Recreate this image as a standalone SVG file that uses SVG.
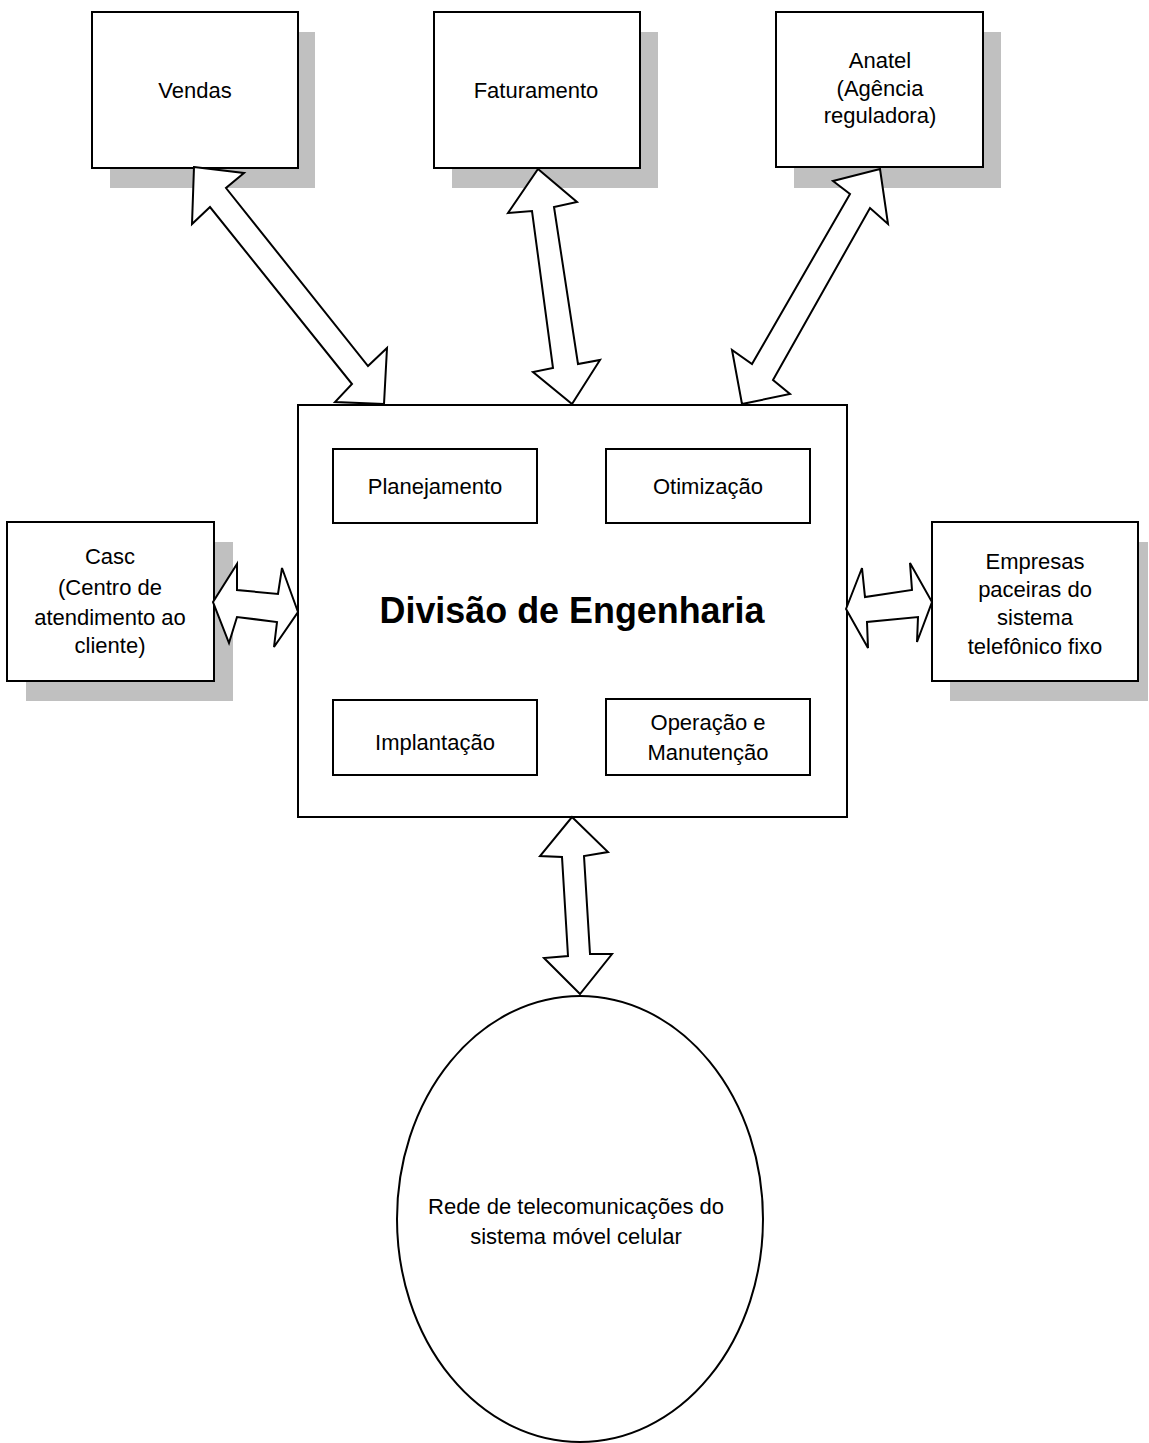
<svg xmlns="http://www.w3.org/2000/svg" width="1149" height="1443" viewBox="0 0 1149 1443">
<style>
.shadow{fill:#c0c0c0;stroke:none}
.box{fill:#ffffff;stroke:#000000;stroke-width:2}
.arrow{fill:#ffffff;stroke:#000000;stroke-width:2;stroke-linejoin:miter}
.t{font-family:"Liberation Sans",Arial,sans-serif;font-size:22px;fill:#000000;text-anchor:middle}
.title{font-family:"Liberation Sans",Arial,sans-serif;font-size:37px;font-weight:bold;fill:#000000;text-anchor:middle}
</style>
<rect x="0" y="0" width="1149" height="1443" fill="#ffffff"/>
<g id="main">
<rect class="box" x="298" y="405" width="549" height="412"/>
<text class="title" x="572" y="623" textLength="385" lengthAdjust="spacingAndGlyphs">Divisão de Engenharia</text>
</g>
<g id="planejamento">
<rect class="box" x="333" y="449" width="204" height="74"/>
<text class="t" x="435" y="494">Planejamento</text>
</g>
<g id="otimizacao">
<rect class="box" x="606" y="449" width="204" height="74"/>
<text class="t" x="708" y="494">Otimização</text>
</g>
<g id="implantacao">
<rect class="box" x="333" y="700" width="204" height="75"/>
<text class="t" x="435" y="750">Implantação</text>
</g>
<g id="operacao">
<rect class="box" x="606" y="699" width="204" height="76"/>
<text class="t" x="708" y="730">Operação e</text>
<text class="t" x="708" y="760">Manutenção</text>
</g>
<g id="vendas">
<rect class="shadow" x="110" y="32" width="205" height="156"/>
<rect class="box" x="92" y="12" width="206" height="156"/>
<text class="t" x="195" y="98">Vendas</text>
</g>
<g id="faturamento">
<rect class="shadow" x="452" y="32" width="206" height="156"/>
<rect class="box" x="434" y="12" width="206" height="156"/>
<text class="t" x="536" y="98">Faturamento</text>
</g>
<g id="anatel">
<rect class="shadow" x="794" y="32" width="207" height="156"/>
<rect class="box" x="776" y="12" width="207" height="155"/>
<text class="t" x="880" y="68">Anatel</text>
<text class="t" x="880" y="96">(Agência</text>
<text class="t" x="880" y="123">reguladora)</text>
</g>
<g id="casc">
<rect class="shadow" x="26" y="542" width="207" height="159"/>
<rect class="box" x="7" y="522" width="207" height="159"/>
<text class="t" x="110" y="564">Casc</text>
<text class="t" x="110" y="595">(Centro de</text>
<text class="t" x="110" y="625">atendimento ao</text>
<text class="t" x="110" y="653">cliente)</text>
</g>
<g id="empresas">
<rect class="shadow" x="950" y="542" width="198" height="159"/>
<rect class="box" x="932" y="522" width="206" height="159"/>
<text class="t" x="1035" y="569">Empresas</text>
<text class="t" x="1035" y="597">paceiras do</text>
<text class="t" x="1035" y="625">sistema</text>
<text class="t" x="1035" y="654">telefônico fixo</text>
</g>
<g id="rede">
<ellipse class="box" cx="580" cy="1219" rx="183" ry="223"/>
<text class="t" x="576" y="1214">Rede de telecomunicações do</text>
<text class="t" x="576" y="1244">sistema móvel celular</text>
</g>
<g id="connectors">
<polygon class="arrow" points="194,167 244,173 226,188 368,366 387,348 384,404 335,402 352,384 210,207 192,224"/>
<polygon class="arrow" points="538,169 577,202 554,207 578,364 600,360 572,404 533,372 553,368 532,211 508,213"/>
<polygon class="arrow" points="880,169 888,224 870,208 773,380 790,394 742,404 732,350 752,364 850,194 833,181"/>
<polygon class="arrow" points="213,602 237,564 237,590 278,594 282,568 298,612 274,647 277,622 237,617 229,643"/>
<polygon class="arrow" points="846,609 862,568 865,597 912,590 910,563 932,602 917,642 918,617 867,622 868,648"/>
<polygon class="arrow" points="572,817 608,852 584,856 590,954 612,954 580,994 544,958 568,956 562,857 540,856"/>
</g>
</svg>
